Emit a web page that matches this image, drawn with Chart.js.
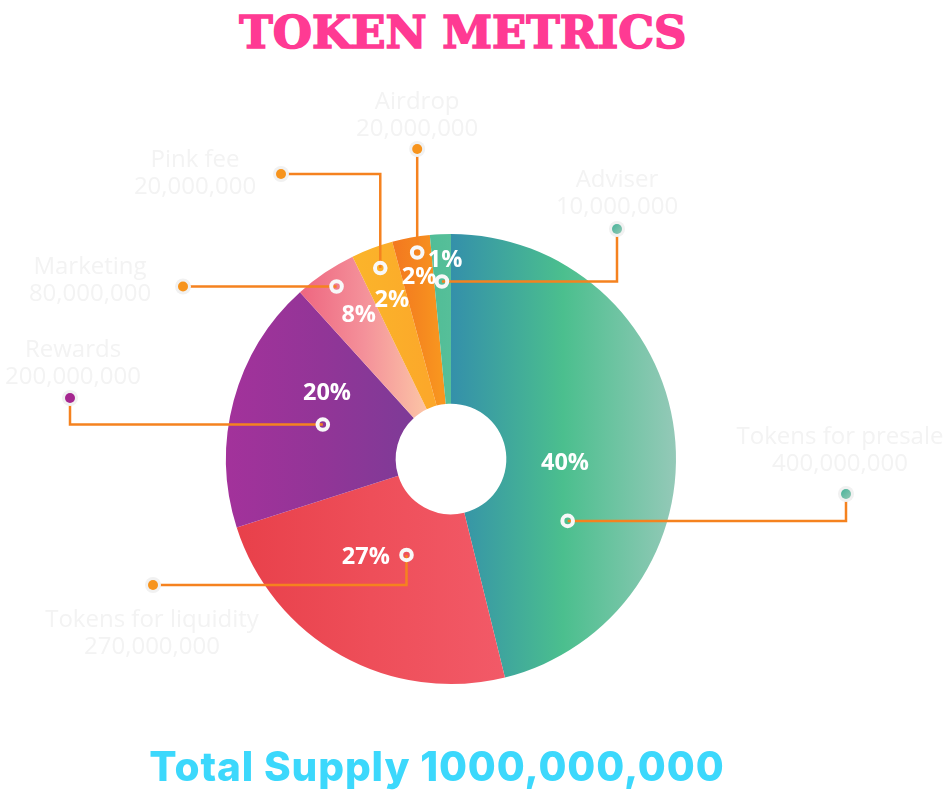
<!DOCTYPE html>
<html>
<head>
<meta charset="utf-8">
<script src="https://cdn.jsdelivr.net/npm/chart.js@4.4.1/dist/chart.umd.min.js"></script>
<style>
  html, body { margin: 0; padding: 0; background: #ffffff; width: 945px; height: 798px; overflow: hidden; }
  #wrap { position: relative; width: 945px; height: 798px; }
  #chart { position: absolute; left: 0; top: 0; }
  .heading { position: absolute; white-space: nowrap; text-align: center; line-height: 1; margin: 0; }
  #title { left: 0; width: 926px; top: 10px; font-family: "DejaVu Serif", serif; font-weight: bold; font-size: 45px; color: #ff3a93; -webkit-text-stroke: 1.6px #ff3a93; }
  #total { left: 0; width: 874px; top: 747px; font-family: Inter, "Open Sans", sans-serif; font-weight: 800; font-size: 40.5px; letter-spacing: 0.9px; color: #3cd8fc; }
</style>
</head>
<body>
<div id="wrap">
  <div id="title" class="heading">TOKEN METRICS</div>
  <canvas id="chart" width="945" height="798"></canvas>
  <div id="total" class="heading">Total Supply 1000,000,000</div>
</div>
<script>
// ---- data ----
const categories = ['Tokens for presale', 'Tokens for liquidity', 'Rewards', 'Marketing', 'Pink fee', 'Airdrop', 'Adviser'];
const tokenAmounts = ['400,000,000', '270,000,000', '200,000,000', '80,000,000', '20,000,000', '20,000,000', '10,000,000'];
const percentLabels = ['40%', '27%', '20%', '8%', '2%', '2%', '1%'];
// slice sizes as drawn in the picture (share of the full circle, %)
const sliceShares = [46.1, 23.9, 18.2, 4.5, 3.0, 2.7, 1.5];

// ---- styling (colours / positions) ----
const gradStops = [
  ['#3490aa', '#4bbf8e', '#94c9b8'],
  ['#e8404a', '#ee4e59', '#f25a68'],
  ['#a3329b', '#923597', '#7d3b97'],
  ['#ee6680', '#f4919a', '#fcc6a6'],
  ['#fbb62b', '#fbb02a', '#fca82a'],
  ['#f37920', '#f5861f', '#f8951f'],
  ['#50bd97', '#53be98', '#56bf99']
];
// gradient x-range, in radius units relative to the centre
const gradRange = [[0, 1], [-0.96, 0.25], [-1, -0.15], [-0.67, -0.1], [-0.5, -0.1], [-0.25, -0.05], [-0.1, 0]];
// ring marker: [fraction along slice angle, fraction of radius]
const markerPos = [[0.71, 0.587], [0.45, 0.47], [0.5, 0.59], [0.53, 0.92], [0.52, 0.905], [0.6, 0.93], [0.46, 0.79]];
// percent label: [fraction along slice angle, fraction of radius]
const pctPos = [[0.554, 0.507], [0.637, 0.577], [0.697, 0.624], [0.586, 0.76], [0.51, 0.754], [0.53, 0.82], [0.69, 0.885]];
// callout end dot, offsets from centre (px at radius 225)
const calloutDots = [
  { route: 'hv', dx: 395, dy: 35 },
  { route: 'vh', dx: -298, dy: 126 },
  { route: 'hv', dx: -381, dy: -61 },
  { route: 'h', dx: -268 },
  { route: 'vh', dx: -170, dy: -285 },
  { route: 'v', dy: -310 },
  { route: 'hv', dx: 166, dy: -230 }
];
const dotColors = [['#46b39a', '#92c8b4'], '#f7941d', '#a5268f', '#f7941d', '#f7941d', '#f7941d', ['#46b39a', '#92c8b4']];
// category label offset relative to its dot (first line), second line +27
const labelOffsets = [[-6, -57], [-1, 35], [3, -48], [-93, -19], [-86, -14], [0, -47], [0, -49]];

function sliceGradient(context) {
  const chart = context.chart;
  const area = chart.chartArea;
  const i = context.dataIndex;
  if (!area) return gradStops[i][1];
  const cx = (area.left + area.right) / 2;
  const R = Math.min(area.right - area.left, area.bottom - area.top) / 2;
  const g = chart.ctx.createLinearGradient(cx + gradRange[i][0] * R, 0, cx + gradRange[i][1] * R, 0);
  const stops = gradStops[i];
  stops.forEach((c, k) => g.addColorStop(k / (stops.length - 1), c));
  return g;
}

const calloutPlugin = {
  id: 'callouts',
  afterDatasetsDraw(chart) {
    const ctx = chart.ctx;
    const arcs = chart.getDatasetMeta(0).data;
    const cx = arcs[0].x, cy = arcs[0].y, R = arcs[0].outerRadius;
    const k = R / 225;
    const polar = (arc, f, rf) => {
      const a = arc.startAngle + (arc.endAngle - arc.startAngle) * f;
      return { x: cx + R * rf * Math.cos(a), y: cy + R * rf * Math.sin(a) };
    };
    ctx.save();
    const pts = arcs.map((arc, i) => {
      const m = polar(arc, markerPos[i][0], markerPos[i][1]);
      const c = calloutDots[i];
      let d;
      if (c.route === 'h') d = { x: cx + c.dx * k, y: m.y };
      else if (c.route === 'v') d = { x: m.x, y: cy + c.dy * k };
      else d = { x: cx + c.dx * k, y: cy + c.dy * k };
      return { m, d, route: c.route };
    });
    // leader lines
    ctx.strokeStyle = '#f5821f';
    ctx.lineWidth = 2.5;
    ctx.lineJoin = 'miter';
    pts.forEach(p => {
      ctx.beginPath();
      ctx.moveTo(p.m.x, p.m.y);
      if (p.route === 'hv') ctx.lineTo(p.d.x, p.m.y);
      if (p.route === 'vh') ctx.lineTo(p.m.x, p.d.y);
      ctx.lineTo(p.d.x, p.d.y);
      ctx.stroke();
    });
    // end dots
    pts.forEach((p, i) => {
      ctx.beginPath();
      ctx.arc(p.d.x, p.d.y, 8, 0, Math.PI * 2);
      ctx.fillStyle = '#f1f1f1';
      ctx.fill();
      let col = dotColors[i];
      if (Array.isArray(col)) {
        const g = ctx.createLinearGradient(p.d.x - 5, p.d.y - 5, p.d.x + 5, p.d.y + 5);
        g.addColorStop(0, col[0]); g.addColorStop(1, col[1]);
        col = g;
      }
      ctx.beginPath();
      ctx.arc(p.d.x, p.d.y, 5, 0, Math.PI * 2);
      ctx.fillStyle = col;
      ctx.fill();
    });
    // ring markers
    ctx.strokeStyle = '#f8f8f8';
    ctx.lineWidth = 4;
    pts.forEach(p => {
      ctx.beginPath();
      ctx.arc(p.m.x, p.m.y, 5.3, 0, Math.PI * 2);
      ctx.stroke();
    });
    // percent labels
    ctx.fillStyle = '#ffffff';
    ctx.font = 'bold 23.5px "Open Sans", sans-serif';
    ctx.textAlign = 'center';
    ctx.textBaseline = 'middle';
    arcs.forEach((arc, i) => {
      const q = polar(arc, pctPos[i][0], pctPos[i][1]);
      ctx.fillText(percentLabels[i], q.x, q.y);
    });
    // category labels (very light, as in the picture)
    ctx.fillStyle = '#f3f3f3';
    ctx.font = '24px "Open Sans", sans-serif';
    pts.forEach((p, i) => {
      const lx = p.d.x + labelOffsets[i][0] * k;
      const ly = p.d.y + labelOffsets[i][1] * k;
      ctx.fillText(categories[i], lx, ly);
      ctx.fillText(tokenAmounts[i], lx, ly + 27 * k);
    });
    ctx.restore();
  }
};

new Chart(document.getElementById('chart'), {
  type: 'doughnut',
  data: {
    labels: categories,
    datasets: [{
      data: sliceShares,
      backgroundColor: sliceGradient,
      borderWidth: 0,
      hoverBorderWidth: 0,
      hoverOffset: 0,
      offset: 0
    }]
  },
  options: {
    responsive: false,
    animation: false,
    devicePixelRatio: 1,
    events: [],
    cutout: '24.6%',
    rotation: 0,
    layout: { padding: { top: 234, bottom: 114, left: 0, right: 43 } },
    plugins: {
      legend: { display: false },
      tooltip: { enabled: false },
      title: { display: false }
    }
  },
  plugins: [calloutPlugin]
});
</script>
</body>
</html>
